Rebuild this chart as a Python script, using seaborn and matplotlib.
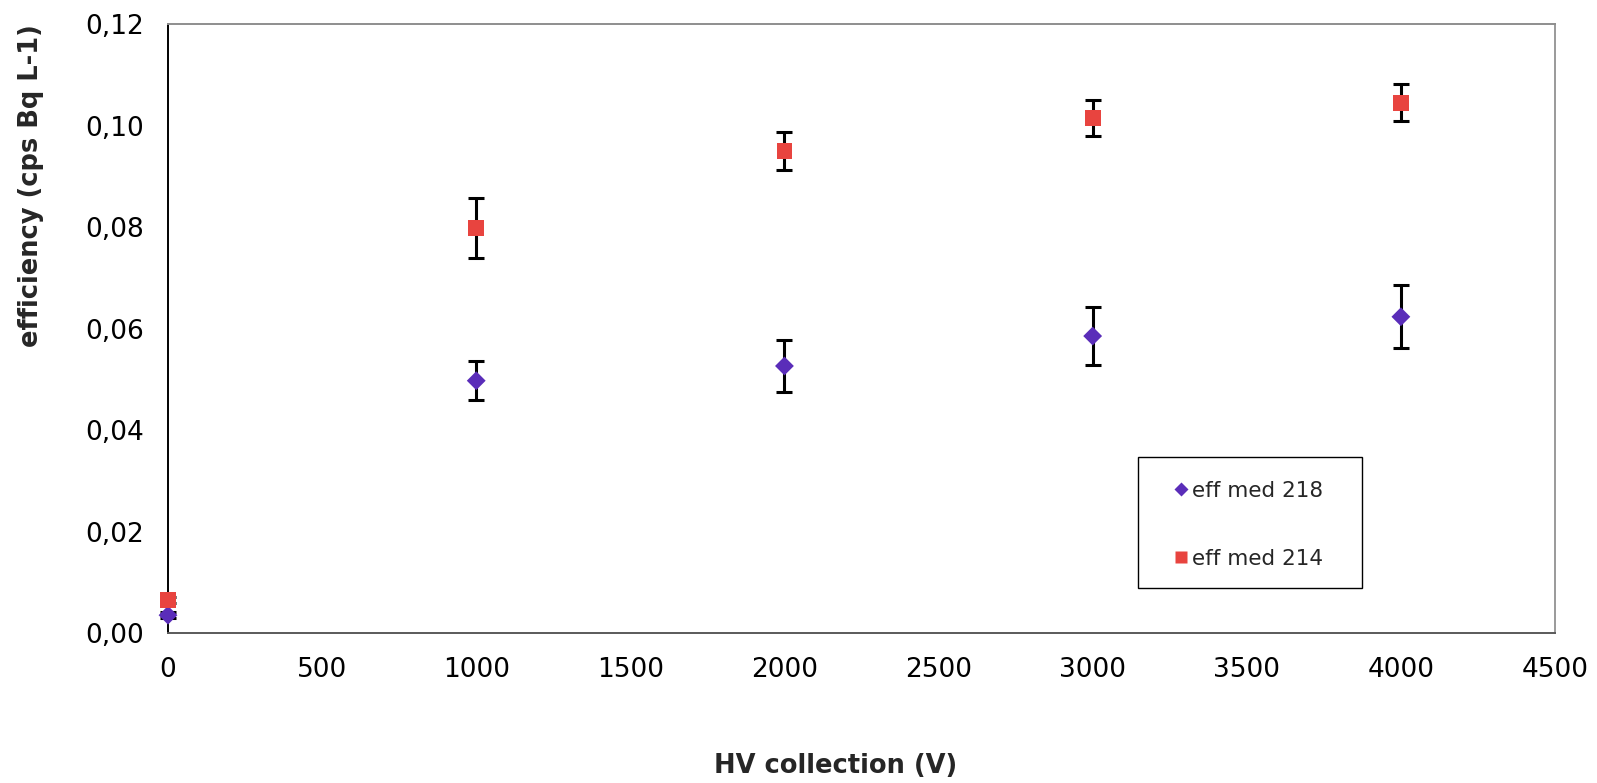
import matplotlib
matplotlib.use("Agg")
import matplotlib.pyplot as plt
import seaborn as sns
import pandas as pd
from matplotlib.patches import Rectangle
from matplotlib.ticker import FuncFormatter, MultipleLocator

# HV collection voltage (V)
voltage = [0, 1000, 2000, 3000, 4000]

# efficiency for Po-218 (cps Bq L-1) and its uncertainty
eff_218 = [0.0036, 0.0498, 0.0527, 0.0586, 0.0624]
err_218 = [0.0006, 0.0039, 0.0051, 0.0057, 0.0062]

# efficiency for Po-214 (cps Bq L-1) and its uncertainty
eff_214 = [0.0066, 0.0799, 0.0951, 0.1016, 0.1046]
err_214 = [0.0006, 0.0059, 0.0037, 0.0035, 0.0036]

labels = ["eff med 218", "eff med 214"]
colors = {"eff med 218": "#5A2DB9", "eff med 214": "#E8443F"}
markers = {"eff med 218": "D", "eff med 214": "s"}
sizes = {"eff med 218": 92, "eff med 214": 130}

df = pd.concat([
    pd.DataFrame({"V": voltage, "eff": eff_218, "err": err_218, "series": labels[0]}),
    pd.DataFrame({"V": voltage, "eff": eff_214, "err": err_214, "series": labels[1]}),
], ignore_index=True)

sns.set_style("white")
plt.rcParams["font.family"] = ["DejaVu Sans"]

fig = plt.figure(figsize=(15.97, 7.83), dpi=100)
ax = fig.add_axes([0.1052, 0.191, 0.8685, 0.7778])

for name in labels:
    sub = df[df["series"] == name]
    ax.errorbar(sub["V"], sub["eff"], yerr=sub["err"], fmt="none",
                ecolor="black", elinewidth=2.2, capsize=5.8, capthick=2.2,
                zorder=3, clip_on=False)
    sns.scatterplot(data=sub, x="V", y="eff", color=colors[name],
                    marker=markers[name], s=sizes[name], edgecolor="none",
                    linewidth=0, ax=ax, zorder=4, clip_on=False, legend=False)

ax.set_xlim(0, 4500)
ax.set_ylim(0, 0.12)
ax.xaxis.set_major_locator(MultipleLocator(500))
ax.yaxis.set_major_locator(MultipleLocator(0.02))
ax.yaxis.set_major_formatter(FuncFormatter(lambda v, p: f"{v:.2f}".replace(".", ",")))

ax.tick_params(axis="both", which="major", labelsize=19, direction="out",
               length=7, width=1.2, labelcolor="black", pad=10)
ax.tick_params(axis="x", colors="#555555", labelcolor="black")
ax.tick_params(axis="y", colors="black", labelcolor="black")

ax.spines["left"].set_color("black")
ax.spines["bottom"].set_color("#5a5a5a")
ax.spines["top"].set_color("#8e8e8e")
ax.spines["right"].set_color("#9a9a9a")
for side in ax.spines:
    ax.spines[side].set_linewidth(1.4)

ax.set_xlabel("")
ax.set_ylabel("")
fig.text(0.5235, 0.0217, "HV collection (V)", fontsize=18.5, fontweight="bold",
         ha="center", va="center")
fig.text(0.0195, 0.7625, "efficiency (cps Bq L-1)", fontsize=18.5,
         fontweight="bold", rotation=90, ha="center", va="center")

# legend box
fig.patches.append(Rectangle((0.7126, 0.249), 0.1403, 0.1673,
                             transform=fig.transFigure, fill=False,
                             edgecolor="black", linewidth=1.0, zorder=5))

handles = [
    plt.Line2D([], [], linestyle="none", marker="D", markersize=7,
               markerfacecolor=colors[labels[0]], markeredgecolor="none"),
    plt.Line2D([], [], linestyle="none", marker="s", markersize=8.5,
               markerfacecolor=colors[labels[1]], markeredgecolor="none"),
]
ax.legend(handles, labels, loc="center left",
          bbox_to_anchor=(0.7327, 0.3301), bbox_transform=fig.transFigure,
          borderaxespad=0, borderpad=0, fontsize=15.5, frameon=False,
          labelspacing=2.23, handletextpad=0.0, handlelength=1.0)

fig.savefig("out.png", dpi=100)
